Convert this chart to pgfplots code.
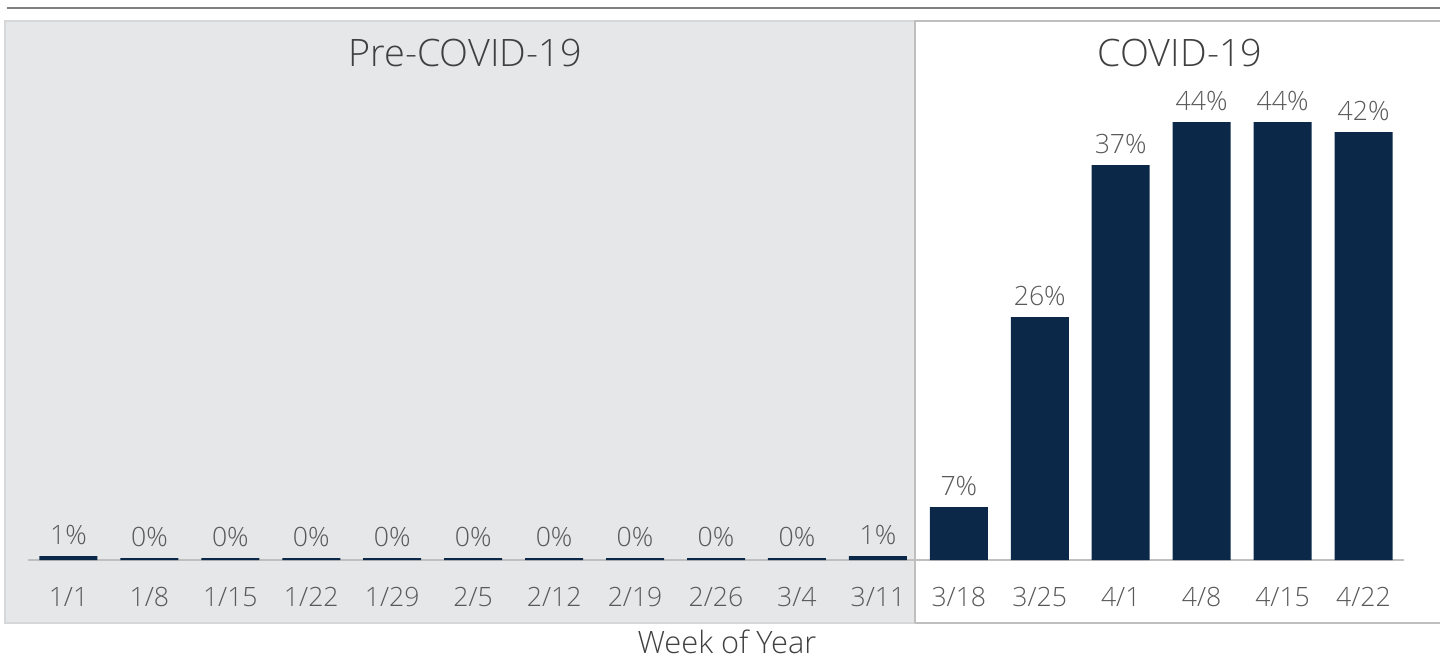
\documentclass[border=0pt]{standalone}
\usepackage{fontspec}
\setmainfont{Open Sans Light}
\usepackage{pgfplots}
\usepackage{pgfplotstable}
\pgfplotsset{compat=1.18}
\definecolor{navy}{HTML}{0C2849}
\definecolor{panelgray}{HTML}{E6E7E9}
\definecolor{panelline}{HTML}{D6D7D9}
\definecolor{whiteline}{HTML}{BFBFBF}
\definecolor{topline}{HTML}{7F7F7F}
\definecolor{basegray}{HTML}{BFBFBF}
\definecolor{labgray}{HTML}{595959}
\definecolor{titlegray}{HTML}{404040}

\pgfplotstableread{
x lab h
0 1 0.4
1 0 0.2
2 0 0.2
3 0 0.2
4 0 0.2
5 0 0.2
6 0 0.2
7 0 0.2
8 0 0.2
9 0 0.2
10 1 0.4
11 7 5.3
12 26 24.3
13 37 39.5
14 44 43.8
15 44 43.8
16 42 42.8
}\data

\begin{document}
\begin{tikzpicture}
\path[use as bounding box] (0pt,0pt) rectangle (720pt,330.5pt);
\fill[panelgray] (2.5pt,19pt) rectangle (457.5pt,320pt);
\draw[panelline, line width=0.8pt] (2.5pt,19pt) rectangle (457.5pt,320pt);
\draw[whiteline, line width=0.8pt] (457.5pt,19pt) -- (457.5pt,320pt) -- (722pt,320pt);
\draw[whiteline, line width=0.8pt] (457.5pt,19pt) -- (722pt,19pt);
\draw[topline, line width=1pt] (3.5pt,326.5pt) -- (722pt,326.5pt);
\begin{axis}[
  at={(14pt,50.5pt)}, anchor=south west,
  scale only axis, width=688pt, height=269.5pt,
  xmin=-0.5, xmax=16.5, ymin=0, ymax=53.9,
  axis x line=bottom, axis y line=none,
  x axis line style={-, draw=basegray, line width=1pt},
  major tick length=0pt,
  xtick={0,...,16},
  xticklabels={1/1,1/8,1/15,1/22,1/29,2/5,2/12,2/19,2/26,3/4,3/11,3/18,3/25,4/1,4/8,4/15,4/22},
  xticklabel style={anchor=base, yshift=-23pt, inner sep=0pt, text=labgray, font=\fontsize{13.3pt}{16pt}\selectfont},
  clip=false,
]
\addplot[ybar, fill=navy, draw=none, bar width=29pt,
  point meta=explicit symbolic,
  nodes near coords={\pgfplotspointmeta\%},
  nodes near coords style={anchor=base, yshift=6pt, inner sep=0pt, text=labgray, font=\fontsize{13.3pt}{16pt}\selectfont},
] table[x=x, y=h, meta=lab] {\data};
\end{axis}
\node[anchor=base, inner sep=0pt, text=titlegray, font=\fontsize{18.9pt}{22pt}\selectfont] at (232.5pt,297.5pt) {Pre-COVID-19};
\node[anchor=base, inner sep=0pt, text=titlegray, font=\fontsize{18.9pt}{22pt}\selectfont] at (590pt,297.5pt) {COVID-19};
\node[anchor=base, inner sep=0pt, text=titlegray, font=\fontsize{15.4pt}{18pt}\selectfont] at (363.5pt,4pt) {Week of Year};
\end{tikzpicture}
\end{document}
